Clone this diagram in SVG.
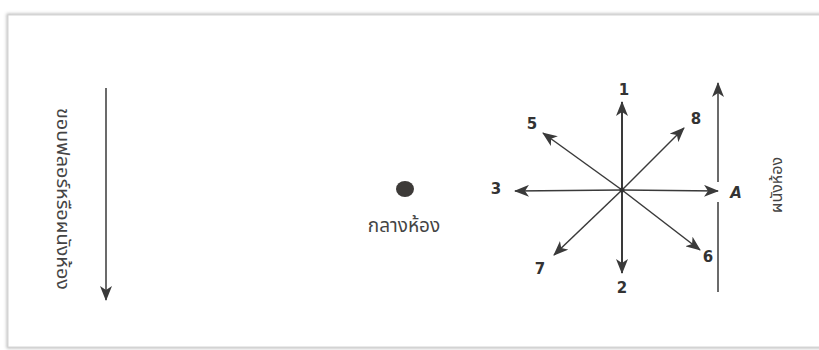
<svg xmlns="http://www.w3.org/2000/svg" width="819" height="350" viewBox="0 0 819 350">
<defs>
<filter id="sh" x="-5%" y="-5%" width="110%" height="110%"><feGaussianBlur stdDeviation="1.5"/></filter>
<marker id="ah" markerWidth="16" markerHeight="12" refX="14" refY="6" orient="auto" markerUnits="userSpaceOnUse">
<path d="M0,0 L15,6 L0,12 L4,6 Z" fill="#3a3a3a"/>
</marker>
</defs>
<style>
.ln{stroke:#3a3a3a;stroke-width:1.5;fill:none}
.lb{font-family:"DejaVu Sans",sans-serif;font-weight:bold;font-size:15px;fill:#333;text-anchor:middle;dominant-baseline:central}
.th{font-family:"Noto Sans","Noto Sans Thai",sans-serif;fill:#444;text-anchor:middle;dominant-baseline:central}
</style>
<rect width="819" height="350" fill="#fff"/>
<g id="frame">
<rect x="8" y="15" width="830" height="332" fill="none" stroke="#bbb" stroke-width="3" filter="url(#sh)"/>
<rect x="8" y="15" width="830" height="332" fill="#fff" stroke="#d4d4d4" stroke-width="1"/>
</g>
<g id="connectors">
<line class="ln" x1="106" y1="88" x2="106" y2="300" marker-end="url(#ah)"/>
<line class="ln" style="stroke-width:2" x1="622" y1="190" x2="622" y2="102" marker-end="url(#ah)"/>
<line class="ln" style="stroke-width:2" x1="622" y1="190" x2="622" y2="273" marker-end="url(#ah)"/>
<line class="ln" x1="622" y1="190" x2="515" y2="191" marker-end="url(#ah)"/>
<line class="ln" x1="622" y1="190" x2="718" y2="191" marker-end="url(#ah)"/>
<line class="ln" x1="622" y1="190" x2="543" y2="133" marker-end="url(#ah)"/>
<line class="ln" x1="622" y1="190" x2="684" y2="128" marker-end="url(#ah)"/>
<line class="ln" x1="622" y1="190" x2="554" y2="255" marker-end="url(#ah)"/>
<line class="ln" x1="622" y1="190" x2="700" y2="250" marker-end="url(#ah)"/>
<line class="ln" x1="718" y1="182" x2="718" y2="83" marker-end="url(#ah)"/>
<line class="ln" x1="718" y1="202" x2="718" y2="292"/>
</g>
<g id="center-dot"><circle cx="622" cy="190" r="2.5" fill="#333"/></g>
<g id="wall-left"><text class="th" font-size="18" textLength="182" lengthAdjust="spacingAndGlyphs" transform="translate(64,199) rotate(90)">ขอบฟลอร์หรือผนังห้อง</text></g>
<g id="room-center">
<ellipse cx="405" cy="189" rx="9" ry="8" fill="#3d3a38"/>
<text class="th" font-size="19" x="404" y="225">กลางห้อง</text>
</g>
<g id="wall-right"><text class="th" font-size="16" transform="translate(776,185) rotate(-90)">ผนังห้อง</text></g>
<g id="labels">
<text class="lb" x="624" y="90">1</text>
<text class="lb" x="622" y="288">2</text>
<text class="lb" x="496" y="189">3</text>
<text class="lb" x="736" y="193" font-style="italic">A</text>
<text class="lb" x="532" y="124">5</text>
<text class="lb" x="696" y="119">8</text>
<text class="lb" x="540" y="269">7</text>
<text class="lb" x="708" y="257">6</text>
</g>
</svg>
